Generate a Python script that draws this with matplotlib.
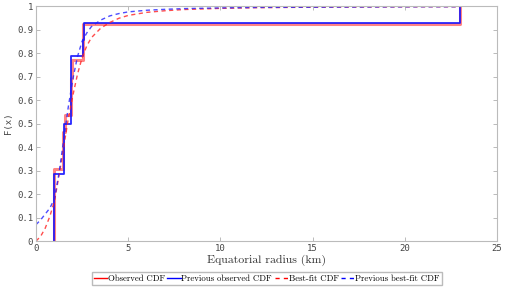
import numpy as np
import matplotlib
matplotlib.use("Agg")
import matplotlib.pyplot as plt
from matplotlib.lines import Line2D

# observed CDF steps (current and previous)
obs_x = [1.0, 1.48, 1.55, 1.9, 1.97, 2.55, 23.0]
obs_F = [0.308, 0.462, 0.538, 0.692, 0.769, 0.923, 1.0]
prev_x = [1.0, 1.52, 1.9, 2.53, 2.6, 23.0]
prev_F = [0.286, 0.5, 0.786, 0.857, 0.929, 1.0]

# best-fit CDFs
fit_x = [0, 0.25, 0.5, 0.75, 1.0, 1.25, 1.5, 1.75, 2.0, 2.25, 2.5, 2.75, 3.0,
         3.5, 4.0, 4.5, 5, 6, 7, 8, 10, 12, 15, 18, 21, 23]
fit_F = [0.0, 0.02, 0.055, 0.105, 0.17, 0.28, 0.40, 0.52, 0.62, 0.71, 0.78,
         0.83, 0.865, 0.905, 0.93, 0.948, 0.96, 0.973, 0.98, 0.985, 0.99,
         0.993, 0.995, 0.996, 0.997, 0.997]
prev_fit_F = [0.07, 0.09, 0.115, 0.14, 0.18, 0.29, 0.43, 0.57, 0.69, 0.785,
              0.85, 0.885, 0.912, 0.94, 0.958, 0.968, 0.975, 0.982, 0.986,
              0.989, 0.992, 0.994, 0.995, 0.996, 0.997, 0.997]

xticks = [0, 5, 10, 15, 20, 25]
yticks = [0, 0.1, 0.2, 0.3, 0.4, 0.5, 0.6, 0.7, 0.8, 0.9, 1]
ytick_labels = ['0', '0.1', '0.2', '0.3', '0.4', '0.5', '0.6', '0.7', '0.8', '0.9', '1']

fig = plt.figure(figsize=(5.18, 2.87), dpi=100)
ax = fig.add_axes([0.0695, 0.160, 0.89, 0.819])

dash = (0, (3, 2.5))
ax.step([obs_x[0]] + obs_x, [0] + obs_F, where='post', color='#ff3030', lw=2.2, alpha=0.6)
ax.step([prev_x[0]] + prev_x, [0] + prev_F, where='post', color='#1010ff', lw=1.3, alpha=0.9)
ax.plot(fit_x, fit_F, ls=dash, color='#ff2020', lw=1.0, alpha=0.8)
ax.plot(fit_x, prev_fit_F, ls=dash, color='#2020ff', lw=1.0, alpha=0.8)

ax.set_xlim(0, 25)
ax.set_ylim(0, 1)
ax.set_xticks(xticks)
ax.set_yticks(yticks)
ax.set_yticklabels(ytick_labels)
ax.tick_params(direction='in', length=3, width=0.6, colors='#b0b0b0',
               labelcolor='#444444', labelsize=6.5, top=True, right=True, pad=2)
for lab in ax.get_xticklabels() + ax.get_yticklabels():
    lab.set_fontfamily('DejaVu Sans Mono')
for sp in ax.spines.values():
    sp.set_color('#bbbbbb')
    sp.set_linewidth(0.8)

ax.set_ylabel('F(x)', fontfamily='DejaVu Sans Mono', fontsize=6.5, color='#444444', labelpad=3)
ax.set_xlabel('Equatorial radius (km)', fontfamily='cmr10', fontsize=8.5, color='#333333', labelpad=1)

handles = [Line2D([], [], color='#ff0000', lw=1),
           Line2D([], [], color='#0000ff', lw=1),
           Line2D([], [], color='#ff0000', lw=1, ls=(0, (3, 3))),
           Line2D([], [], color='#0000ff', lw=1, ls=(0, (3, 3)))]
labels = ['Observed CDF', 'Previous observed CDF', 'Best-fit CDF', 'Previous best-fit CDF']
fig.legend(handles, labels, loc='lower center', bbox_to_anchor=(0.515, 0.0), ncol=4,
           prop={'family': 'cmr10', 'size': 6.3}, frameon=True, fancybox=False,
           edgecolor='#aaaaaa', handlelength=1.5, handletextpad=0.1, columnspacing=0.3,
           borderpad=0.25, borderaxespad=0.2)

fig.savefig('out.png', dpi=100)
